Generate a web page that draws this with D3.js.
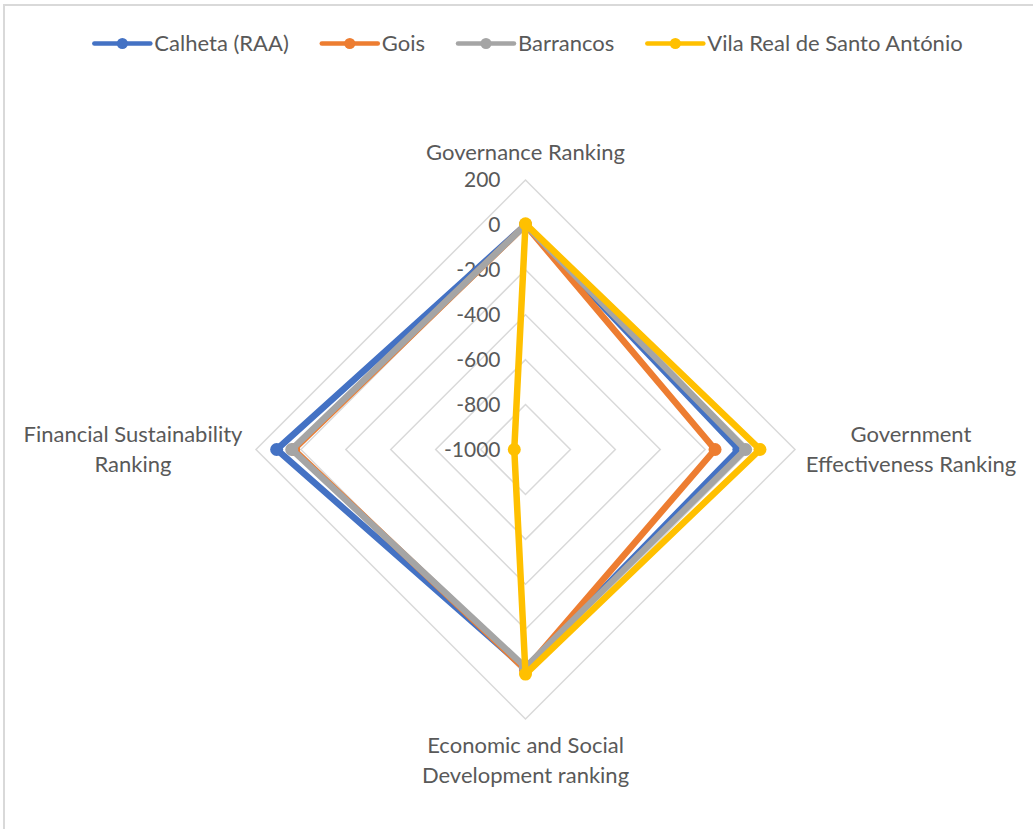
<!DOCTYPE html>
<html>
<head>
<meta charset="utf-8">
<script src="https://cdn.jsdelivr.net/npm/d3@7"></script>
<style>
  body { margin: 0; background: #fff; }
  svg { display: block; font-family: Lato, "Open Sans", sans-serif; }
</style>
</head>
<body>
<svg id="chart" width="1033" height="829"></svg>
<script>
// categories (clockwise from top), each split in the lines shown on the chart
var categories = ["Governance Ranking", "Government Effectiveness Ranking", "Economic and Social Development ranking", "Financial Sustainability Ranking"]
var categoryLines = [["Governance Ranking"], ["Government", "Effectiveness Ranking"], ["Economic and Social", "Development ranking"], ["Financial Sustainability", "Ranking"]]

var seriesNames = ["Calheta (RAA)", "Gois", "Barrancos", "Vila Real de Santo António"]
var calheta = [0, -50, -25, 108]
var gois = [0, -156, -20, 32]
var barrancos = [0, -20, -30, 41]
var vilaReal = [5, 44, 0, -950]

var ticks = [-1000, -800, -600, -400, -200, 0, 200]

var colors = ["#4472C4", "#ED7D31", "#A5A5A5", "#FFC000"]

var dims = {
    width: 1033,
    height: 829,
    cx: 525.5,
    cy: 449.5,
    radius: 269.5
}

var series = [calheta, gois, barrancos, vilaReal].map((vals, i) => ({name: seriesNames[i], values: vals, color: colors[i]}))

var svg = d3.select("#chart")

// chart area border
svg.append("rect")
    .attr("x", 4).attr("y", 5)
    .attr("width", dims.width + 10).attr("height", dims.height + 10)
    .attr("fill", "#fff")
    .attr("stroke", "#d9d9d9")
    .attr("stroke-width", 2)

var rScale = d3.scaleLinear()
    .domain([d3.min(ticks), d3.max(ticks)])
    .range([0, dims.radius])

var angle = d3.scalePoint()
    .domain(d3.range(categories.length))
    .range([-Math.PI / 2, -Math.PI / 2 + 2 * Math.PI * (categories.length - 1) / categories.length])

var point = (i, v) => [dims.cx + rScale(v) * Math.cos(angle(i)), dims.cy + rScale(v) * Math.sin(angle(i))]

var plot = svg.append("g")

// grid diamonds
plot.append("g")
    .selectAll("path")
    .data(ticks.slice(1))
    .enter()
    .append("path")
    .attr("d", t => d3.line()(d3.range(categories.length).map(i => point(i, t))) + "Z")
    .attr("fill", "none")
    .attr("stroke", "#d9d9d9")
    .attr("stroke-width", 1.5)

// value labels along the top axis
plot.append("g")
    .selectAll("text")
    .data(ticks)
    .enter()
    .append("text")
    .attr("x", dims.cx - 25)
    .attr("y", t => point(0, t)[1])
    .attr("dy", "0.35em")
    .attr("text-anchor", "end")
    .attr("font-size", 21)
    .attr("fill", "#595959")
    .text(t => t)

// category labels, placed from the outer end of each spoke
var labelOffsets = [[0, -20], [116, -7.5], [0, 34], [-123, -7.5]]
var catLabels = plot.append("g")
    .selectAll("text")
    .data(categoryLines)
    .enter()
    .append("text")
    .attr("text-anchor", "middle")
    .attr("font-size", 22)
    .attr("fill", "#595959")
    .attr("transform", (d, i) => {
        var p = point(i, d3.max(ticks))
        return `translate(${p[0] + labelOffsets[i][0]},${p[1] + labelOffsets[i][1]})`
    })
catLabels.selectAll("tspan")
    .data(d => d)
    .enter()
    .append("tspan")
    .attr("x", 0)
    .attr("dy", (d, j) => j == 0 ? 0 : 29.5)
    .text(d => d)

// series
var line = d3.line().curve(d3.curveLinearClosed)

var seriesG = plot.selectAll(".series")
    .data(series)
    .enter()
    .append("g")
    .attr("class", "series")

seriesG.append("path")
    .attr("d", s => line(s.values.map((v, i) => point(i, v))))
    .attr("fill", "none")
    .attr("stroke", s => s.color)
    .attr("stroke-width", 6.5)
    .attr("stroke-linejoin", "miter")
    .attr("stroke-miterlimit", 2)

seriesG.selectAll("circle")
    .data(s => s.values.map((v, i) => ({p: point(i, v), color: s.color})))
    .enter()
    .append("circle")
    .attr("cx", d => d.p[0])
    .attr("cy", d => d.p[1])
    .attr("r", 6.5)
    .attr("fill", d => d.color)

// legend
var legend = svg.append("g")
var lx = 0
var items = legend.selectAll("g")
    .data(series)
    .enter()
    .append("g")

items.append("text")
    .attr("x", 60)
    .attr("y", 0)
    .attr("dy", "0.35em")
    .attr("font-size", 22)
    .attr("fill", "#595959")
    .text(s => s.name)

items.each(function(s) {
    var w = d3.select(this).select("text").node().getComputedTextLength()
    d3.select(this).attr("transform", `translate(${lx},0)`)
    lx += 60 + w + 33
})
lx -= 33

items.append("line")
    .attr("x1", 0).attr("x2", 56)
    .attr("y1", 0).attr("y2", 0)
    .attr("stroke", s => s.color)
    .attr("stroke-width", 4.5)
    .attr("stroke-linecap", "round")

items.append("circle")
    .attr("cx", 28).attr("cy", 0)
    .attr("r", 5.5)
    .attr("fill", s => s.color)

legend.attr("transform", `translate(${528.5 - lx / 2},43.5)`)
</script>
</body>
</html>
